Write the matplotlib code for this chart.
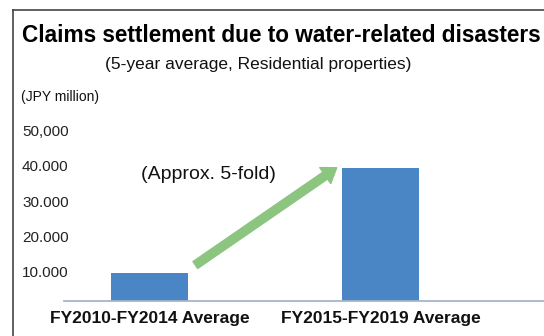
import matplotlib
matplotlib.use("Agg")
import matplotlib.pyplot as plt
from matplotlib.lines import Line2D
from matplotlib.transforms import ScaledTranslation

plt.rcParams['font.family'] = ['Liberation Sans', 'DejaVu Sans']

# data
periods = ["FY2010-FY2014 Average", "FY2015-FY2019 Average"]
claims = [8000, 37800]          # JPY million, 5-year average
ytick_vals = [10000, 20000, 30000, 40000, 50000]
ytick_lbls = ["10.000", "20.000", "30.000", "40.000", "50,000"]

bar_w = 0.333
x = list(range(len(periods)))

fig = plt.figure(figsize=(5.44, 3.36), dpi=100)
fig.patch.set_facecolor("white")
ax = fig.add_axes([64/544, 1 - 301/336, 480/544, 176.3/336])

ax.bar(x, claims, width=bar_w, color="#4A86C6", zorder=2)
ax.set_xlim(-0.372, 1.706)
ax.set_ylim(0, 50000)

# axis styling
for s in ["top", "right", "left"]:
    ax.spines[s].set_visible(False)
ax.spines["bottom"].set_color("#A3B6C9")
ax.spines["bottom"].set_linewidth(1.3)
ax.set_xticks(x)
ax.set_xticklabels(periods, fontsize=12.5, fontweight="bold", color="#111")
ax.tick_params(axis="x", length=0, pad=7)
ax.set_yticks(ytick_vals)
ax.set_yticklabels(ytick_lbls, fontsize=11, color="#222", ha="left")
ax.tick_params(axis="y", length=0, pad=30.2)
shift = ScaledTranslation(0, -5.8/100, fig.dpi_scale_trans)
for lbl in ax.get_yticklabels():
    lbl.set_transform(lbl.get_transform() + shift)

# growth arrow from first bar to second bar
tail = (x[0] + bar_w/2 + 0.03, claims[0] + 2200)
head = (x[1] - bar_w/2 - 0.025, claims[1])
ax.annotate("", xy=head, xytext=tail,
            arrowprops=dict(arrowstyle="simple,head_length=1.0,head_width=1.4,tail_width=0.6",
                            color="#8CC57F", shrinkA=0, shrinkB=0), zorder=3)
ax.text(0.255, 36000, "(Approx. 5-fold)", fontsize=14, ha="center", va="center", color="#111")

# titles
fig.text(22/544, 1 - 35/336, "Claims settlement due to water-related disasters",
         fontsize=16.3, fontweight="bold", ha="left", va="center", color="#000")
fig.text(105/544, 1 - 65/336, "(5-year average, Residential properties)",
         fontsize=12.5, ha="left", va="center", color="#111")
fig.text(21/544, 1 - 97/336, "(JPY million)", fontsize=10, ha="left", va="center", color="#111")

# frame
fig.add_artist(Line2D([12.5/544, 12.5/544], [0, 1 - 10/336], color="#444", lw=1.2))
fig.add_artist(Line2D([12.5/544, 1], [1 - 10/336, 1 - 10/336], color="#444", lw=1.2))

fig.savefig("out.png", dpi=100)
